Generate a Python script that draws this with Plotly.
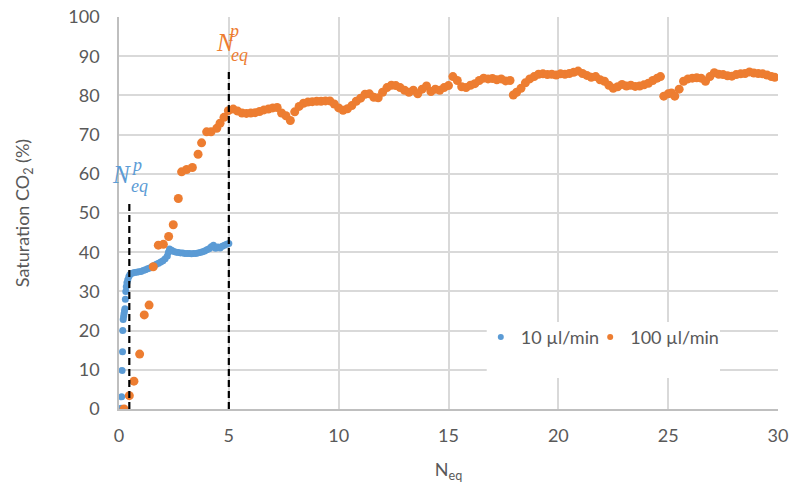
import plotly.graph_objects as go

# ---------------- data ----------------
blue_x = [0.09, 0.12, 0.14, 0.16, 0.17, 0.19, 0.21, 0.23, 0.25, 0.27, 0.29, 0.31, 0.33, 0.36, 0.40,
          0.45, 0.50, 0.60, 0.70, 0.80, 0.90, 1.00, 1.10, 1.20, 1.30, 1.40, 1.50, 1.60, 1.70, 1.80,
          1.90, 2.00, 2.10, 2.20, 2.25, 2.30, 2.40, 2.50, 2.60, 2.70, 2.80, 2.90, 3.00, 3.10, 3.20,
          3.30, 3.40, 3.50, 3.60, 3.70, 3.80, 3.90, 4.00, 4.10, 4.20, 4.30, 4.35, 4.40, 4.50, 4.60,
          4.70, 4.80, 4.90, 5.00]
blue_y = [0.2, 3.1, 9.8, 14.6, 20.0, 22.8, 23.6, 24.3, 25.0, 25.6, 28.0, 30.0, 31.2, 32.2, 33.0,
          33.8, 34.3, 34.6, 34.8, 34.9, 35.0, 35.1, 35.3, 35.5, 35.8, 36.0, 36.3, 36.6, 36.9, 37.2,
          37.5, 37.8, 38.3, 39.0, 40.0, 40.8, 40.5, 40.2, 40.0, 39.9, 39.8, 39.8, 39.7, 39.7, 39.7,
          39.6, 39.7, 39.7, 39.8, 39.9, 40.1, 40.3, 40.6, 40.9, 41.4, 41.8, 41.2, 41.0, 41.3, 41.1,
          41.5, 41.8, 42.0, 42.2]

orange_x = [0.23, 0.47, 0.68, 0.94, 1.15, 1.37, 1.56, 1.79, 2.02, 2.26, 2.47, 2.70, 2.85, 3.08, 3.34,
            3.60, 3.76, 3.99, 4.19, 4.45, 4.60, 4.78, 4.98, 5.20,
            5.4, 5.6, 5.8, 6.0, 6.2, 6.4, 6.6, 6.8, 7.0, 7.2, 7.4, 7.6, 7.8, 8.0, 8.2, 8.4, 8.6, 8.8,
            9.0, 9.2, 9.4, 9.6, 9.8, 10.0, 10.2, 10.4, 10.6, 10.8, 11.0, 11.2, 11.4, 11.6, 11.8,
            12.0, 12.2, 12.4, 12.6, 12.8, 13.0, 13.2, 13.4, 13.6, 13.8, 14.0, 14.2, 14.4, 14.6,
            14.8, 15.0, 15.2, 15.4, 15.6, 15.8, 16.0, 16.2, 16.4, 16.6, 16.8, 17.0, 17.2, 17.4,
            17.6, 17.8, 17.95, 18.1, 18.3, 18.5, 18.7, 18.9, 19.1, 19.3, 19.5, 19.7, 19.9, 20.1,
            20.3, 20.5, 20.7, 20.9, 21.1, 21.3, 21.5, 21.7, 21.9, 22.1, 22.3, 22.5, 22.7, 22.9,
            23.1, 23.3, 23.5, 23.7, 23.9, 24.1, 24.3, 24.5, 24.65, 24.8, 25.0, 25.15, 25.3, 25.5,
            25.7, 25.9, 26.1, 26.3, 26.5, 26.7, 26.9, 27.1, 27.3, 27.5, 27.7, 27.9, 28.1, 28.3,
            28.5, 28.7, 28.9, 29.1, 29.3, 29.5, 29.7, 29.85, 30.0]
orange_y = [0.0, 3.4, 7.1, 14.0, 24.0, 26.5, 36.3, 41.8, 42.0, 44.0, 47.0, 53.7, 60.5, 61.1, 61.6,
            65.0, 67.9, 70.7, 70.7, 71.6, 72.9, 74.4, 76.1, 76.5,
            76.0, 75.5, 75.4, 75.5, 75.6, 75.9, 76.3, 76.5, 76.8, 76.9, 75.5, 74.8, 73.6, 75.8,
            77.2, 78.0, 78.3, 78.4, 78.5, 78.5, 78.6, 78.6, 77.8, 76.8, 76.2, 76.6, 77.4, 78.5,
            79.3, 80.3, 80.4, 79.5, 79.4, 80.8, 82.0, 82.6, 82.5, 82.0, 81.3, 80.8, 81.3, 80.4,
            81.6, 82.4, 81.0, 81.6, 81.3, 82.0, 82.5, 84.8, 83.8, 82.2, 82.0, 82.6, 83.0, 83.8,
            84.4, 84.2, 84.3, 84.0, 84.2, 83.7, 83.8, 80.1, 80.8, 81.8, 83.2, 84.2, 84.8, 85.4,
            85.5, 85.3, 85.4, 85.2, 85.5, 85.4, 85.6, 85.9, 86.2, 85.6, 85.1, 84.6, 84.8, 84.0,
            83.6, 82.6, 81.8, 82.2, 82.8, 82.4, 82.6, 82.3, 82.4, 82.7, 83.1, 83.8, 84.4, 84.8,
            79.8, 80.4, 80.6, 79.8, 81.6, 83.6, 84.2, 84.4, 84.5, 84.4, 83.6, 84.8, 85.8, 85.4,
            85.3, 85.0, 84.9, 85.3, 85.5, 85.6, 86.0, 85.7, 85.6, 85.5, 85.2, 84.8, 84.6]

x_ticks = [0, 5, 10, 15, 20, 25, 30]
y_ticks = [0, 10, 20, 30, 40, 50, 60, 70, 80, 90, 100]
series_names = ["10 µl/min", "100 µl/min"]

# N_eq^p markers: (x position, top of the dashed line)
neq_blue = (0.47, 53)
neq_orange = (5.0, 86)

BLUE = "#5B9BD5"
ORANGE = "#ED7D31"
GRID = "#D9D9D9"
TXT = "#595959"
FONT = "Lato, Open Sans, sans-serif"

fig = go.Figure()
fig.add_trace(go.Scatter(x=blue_x, y=blue_y, mode="markers", name=series_names[0],
                         marker=dict(color=BLUE, size=7), showlegend=False))
fig.add_trace(go.Scatter(x=orange_x, y=orange_y, mode="markers", name=series_names[1],
                         marker=dict(color=ORANGE, size=9), showlegend=False))
# legend-only entries with small markers, as in the reference legend
for nm, col, lg in zip(series_names, [BLUE, ORANGE], ["legend", "legend2"]):
    fig.add_trace(go.Scatter(x=[None], y=[None], mode="markers", name=nm, legend=lg,
                             marker=dict(color=col, size=6), showlegend=True))

for xv, top in (neq_blue, neq_orange):
    fig.add_shape(type="line", x0=xv, x1=xv, y0=0, y1=top, xref="x", yref="y",
                  line=dict(color="black", width=2.2, dash="7px,4px"), layer="above")

# white legend background hiding gridlines
fig.add_shape(type="rect", xref="paper", yref="paper", x0=0.558, x1=0.912, y0=0.079, y1=0.222,
              fillcolor="white", line=dict(width=0), layer="above")

ser = "Liberation Serif, DejaVu Serif, serif"
for (xn, yn, xp, yp, xe, ye, col) in [
        (0.11, 59.7, 0.80, 62.3, 0.92, 56.8, BLUE),
        (4.85, 93.5, 5.20, 96.5, 5.50, 90.4, ORANGE)]:
    fig.add_annotation(x=xn, y=yn, text="<i>N</i>", showarrow=False, xref="x", yref="y",
                       font=dict(family=ser, size=25, color=col), xanchor="center", yanchor="middle")
    fig.add_annotation(x=xp, y=yp, text="<i>p</i>", showarrow=False, xref="x", yref="y",
                       font=dict(family=ser, size=18, color=col), xanchor="center", yanchor="middle")
    fig.add_annotation(x=xe, y=ye, text="<i>eq</i>", showarrow=False, xref="x", yref="y",
                       font=dict(family=ser, size=18, color=col), xanchor="center", yanchor="middle")

leg_common = dict(orientation="h", y=0.183, xanchor="left", yanchor="middle",
                  bgcolor="rgba(0,0,0,0)", font=dict(size=18, color=TXT),
                  itemsizing="trace", itemwidth=30)

fig.update_layout(
    width=792, height=488,
    margin=dict(l=119, r=14, t=17, b=79),
    paper_bgcolor="white", plot_bgcolor="white",
    font=dict(family=FONT, size=18, color=TXT),
    showlegend=True,
    legend=dict(x=0.549, **leg_common),
    legend2=dict(x=0.715, **leg_common),
    xaxis=dict(range=[0, 30], tickvals=x_ticks, showgrid=True, gridcolor=GRID, gridwidth=1.5,
               zeroline=False, showline=True, linecolor="#BFBFBF", linewidth=1.5,
               ticks="", ticklabelstandoff=10, automargin=False,
               title=dict(text="N<sub>eq</sub>", font=dict(size=18, color=TXT), standoff=18)),
    yaxis=dict(range=[0, 100], tickvals=y_ticks, showgrid=True, gridcolor=GRID, gridwidth=1.5,
               zeroline=False, showline=True, linecolor="#BFBFBF", linewidth=1.5,
               ticks="", ticklabelstandoff=14, automargin=False,
               title=dict(text="Saturation CO<sub>2</sub> (%)", font=dict(size=18, color=TXT), standoff=34)),
)

fig.write_html("out.html", config={"displayModeBar": False},
               post_script="document.body.style.margin='0';document.body.style.padding='0';")
